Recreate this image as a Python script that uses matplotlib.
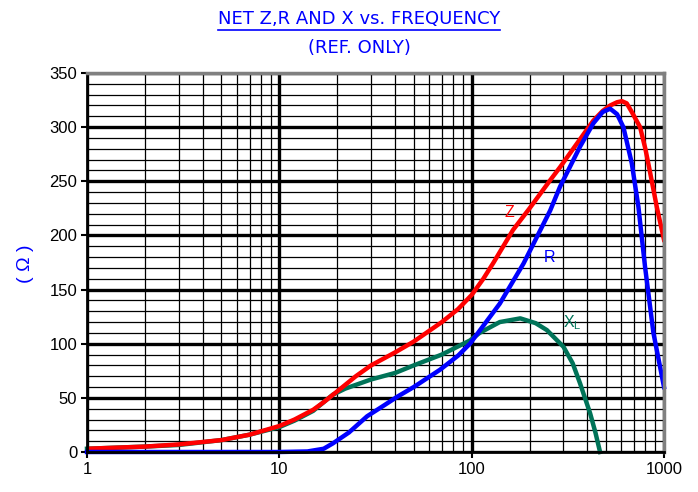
import matplotlib as mpl
mpl.use("Agg")
import matplotlib.pyplot as plt
from matplotlib.lines import Line2D
from matplotlib.ticker import FixedLocator, NullFormatter
import numpy as np

# values (frequency, ohms)
z_freq = [1, 2, 3, 5, 7, 10, 12, 15, 17, 20, 25, 30, 40, 50, 70, 85, 100, 115, 130, 164, 200,
          256, 288, 350, 429, 480, 525, 570, 604, 640, 680, 751, 800, 847, 918, 1000]
z_ohm = [3, 5, 7, 11, 16, 24, 30, 39, 46, 56, 70, 80, 92, 102, 120, 132, 145, 160, 175, 205, 225,
         251, 263, 284, 306, 315, 320, 323, 324, 322, 314, 300, 280, 258, 226, 196]

r_freq = [1, 10, 14, 17, 19, 23, 28.6, 35, 41, 50, 68.5, 85, 98, 110, 140, 186, 256, 288, 366, 429,
          480, 525, 570, 615, 680, 736, 797, 881, 1000]
r_ohm = [0, 0, 0.5, 3, 8, 18, 33, 43, 51, 60, 76, 89, 100, 112, 137, 174, 223, 245, 282, 303.5,
         314, 317, 312, 300, 266.6, 226.5, 171, 110, 60]

x_freq = [1, 2, 3, 5, 7, 10, 12, 15, 17, 19, 22, 25, 30, 40, 50, 70, 98, 110, 140, 179, 215, 246,
          300, 335, 366, 413, 440, 465]
x_ohm = [3, 5, 6.5, 11, 16, 23, 29, 38, 46, 53, 58.5, 62, 67, 73, 80, 90, 103, 110, 120, 123.4,
         119, 112.6, 97.2, 82, 63.4, 35.7, 18, 0]

y_major = [0, 50, 100, 150, 200, 250, 300, 350]
x_major = [1, 10, 100, 1000]
x_major_labels = ["1", "10", "100", "1000"]

plt.rcParams["font.family"] = ["Liberation Sans", "DejaVu Sans"]

fig = plt.figure(figsize=(6.98, 4.92), dpi=100)
ax = fig.add_axes([87 / 698, 1 - 452 / 492, 577 / 698, 379 / 492])

ax.set_xscale("log")
ax.set_xlim(1, 1000)
ax.set_ylim(0, 350)

# grid: thin minor, thick major
minor_x = [m * 10 ** d for d in range(3) for m in range(2, 10)]
ax.xaxis.set_minor_locator(FixedLocator(minor_x))
ax.xaxis.set_minor_formatter(NullFormatter())
ax.yaxis.set_minor_locator(FixedLocator(np.arange(0, 351, 10)))
ax.grid(which="minor", color="black", lw=0.9)
ax.grid(which="major", color="black", lw=2.4)
ax.set_axisbelow(True)
ax.tick_params(which="minor", length=0)
ax.tick_params(which="major", length=4, width=1.5, labelsize=12, pad=3)

ax.set_xticks(x_major)
ax.set_xticklabels(x_major_labels)
ax.set_yticks(y_major)

for side in ["left", "bottom"]:
    ax.spines[side].set_linewidth(2)
    ax.spines[side].set_color("black")
for side in ["top", "right"]:
    ax.spines[side].set_linewidth(2.5)
    ax.spines[side].set_color("#808080")

ax.plot(x_freq, x_ohm, color="#007358", lw=3.2, solid_joinstyle="round", clip_on=False)
ax.plot(z_freq, z_ohm, color="#ff0000", lw=3.2, solid_joinstyle="round")
ax.plot(r_freq, r_ohm, color="#0000ff", lw=3.2, solid_joinstyle="round", clip_on=False)

# curve labels
ax.text(157, 221, "Z", color="#ff0000", fontsize=11.5, ha="center", va="center")
ax.text(253, 180, "R", color="#0000ff", fontsize=11.5, ha="center", va="center")
ax.text(332, 119, "X$_\\mathregular{L}$", color="#007358", fontsize=11.5, ha="center", va="center")

fig.text(25 / 698, 1 - 264 / 492, "( Ω )", color="#0000ff", fontsize=14,
         rotation=90, ha="center", va="center")

t1 = fig.text(359 / 698, 1 - 19 / 492, "NET Z,R AND X vs. FREQUENCY", color="#0000ff",
              fontsize=13, ha="center", va="center", family="DejaVu Sans")
fig.text(359 / 698, 1 - 48 / 492, "(REF. ONLY)", color="#0000ff",
         fontsize=13, ha="center", va="center", family="DejaVu Sans")

# underline the first title line
fig.canvas.draw()
bb = t1.get_window_extent().transformed(fig.transFigure.inverted())
fig.add_artist(Line2D([bb.x0, bb.x1], [bb.y0 - 0.004, bb.y0 - 0.004],
                      color="#0000ff", lw=1.2, transform=fig.transFigure))

fig.savefig("out.png", dpi=100)
